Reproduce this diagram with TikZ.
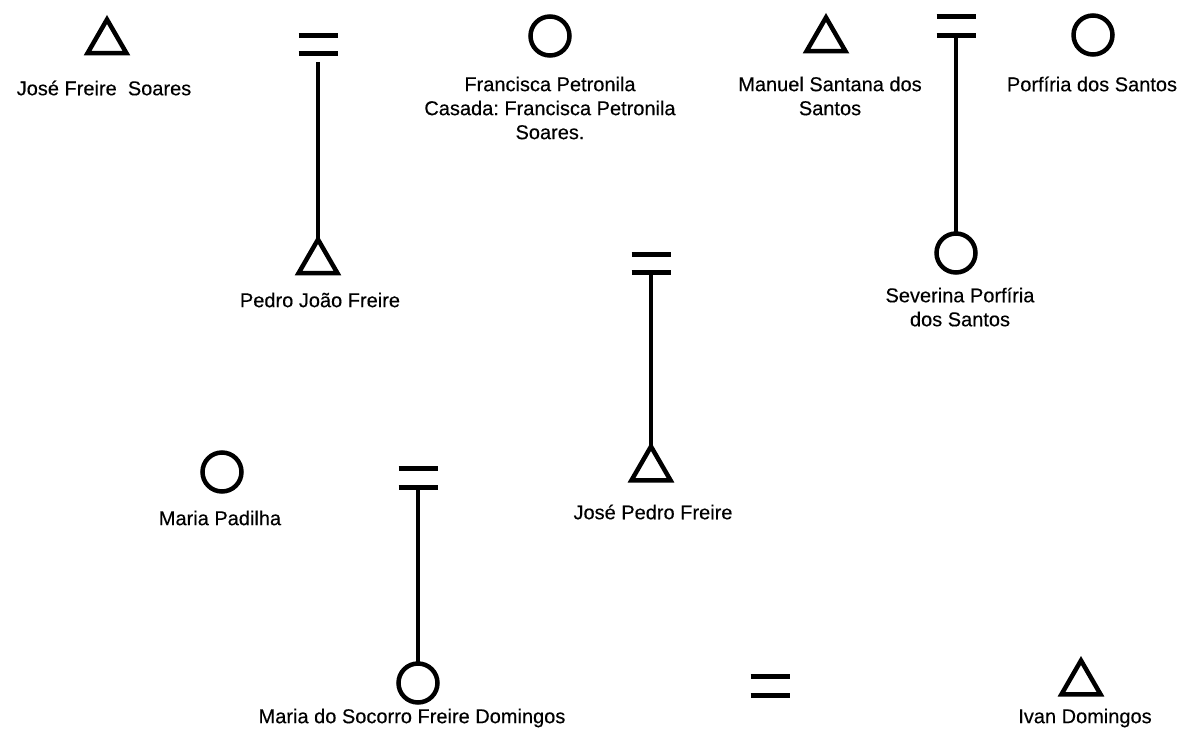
\documentclass[tikz,border=0pt]{standalone}
\usepackage{fontspec}
\setmainfont[FakeBold=0.3]{Liberation Sans}
\usetikzlibrary{shapes.geometric}
\frenchspacing
\begin{document}
\begin{tikzpicture}[x=1pt,y=-1pt,
  male/.style={regular polygon,regular polygon sides=3,draw,line width=4.5pt,minimum size=45pt,inner sep=0pt,outer sep=0pt},
  female/.style={circle,draw,line width=4.5pt,minimum size=39pt,inner sep=0pt,outer sep=0pt},
  marr/.style={rectangle,draw=none,minimum width=39pt,minimum height=18pt,inner sep=0pt,outer sep=0pt},
  bar/.style={line width=5pt},
  desc/.style={line width=4.5pt},
  lbl/.style={align=center,font=\fontsize{20}{24}\selectfont,inner sep=0pt}]
\useasboundingbox (0,0) rectangle (1186,735);

% symbols
\node[male]   (josefs)   at (107,42)  {};
\node[marr]   (e1)       at (318,45)  {};
\node[male]   (pedrojf)  at (318,262) {};
\node[female] (francisca) at (550,36) {};
\node[male]   (manuel)   at (826,40)  {};
\node[marr, minimum height=19pt] (e2) at (956,26.5) {};
\node[female] (severina) at (956,253) {};
\node[female] (porfiria) at (1093,35) {};
\node[marr]   (e3)       at (651,264) {};
\node[male]   (josepf)   at (651,469) {};
\node[female] (padilha)  at (222,472) {};
\node[marr, minimum height=19pt] (e4) at (418,478) {};
\node[female] (socorro)  at (418,683) {};
\node[marr, minimum height=19pt] (e5) at (770,686) {};
\node[male]   (ivan)     at (1081,683) {};

% marriage bars
\foreach \e in {e1,e2,e3,e4,e5}{
  \draw[bar] (\e.north west) -- (\e.north east);
  \draw[bar] (\e.south west) -- (\e.south east);
}

% descent lines
\draw[desc, shorten <=8pt] (e1.south) -- (pedrojf.corner 1);
\draw[desc] (e2.south) -- (severina.north);
\draw[desc] (e3.south) -- (josepf.corner 1);
\draw[desc] (e4.south) -- (socorro.north);

% labels
\node[lbl] (l1)  at (104,88)  {José Freire\ \ Soares};
\node[lbl] (l2)  at (320,300) {Pedro João Freire};
\node[lbl] (l3)  at (550,108) {Francisca Petronila\\Casada: Francisca Petronila\\Soares.};
\node[lbl] (l4)  at (830,96)  {Manuel Santana dos\\Santos};
\node[lbl] (l5)  at (960,307) {Severina Porfíria\\dos Santos};
\node[lbl] (l6)  at (1092,84) {Porfíria dos Santos};
\node[lbl] (l7)  at (653,512) {José Pedro Freire};
\node[lbl] (l8)  at (220,518) {Maria Padilha};
\node[lbl] (l9)  at (412,718) {Maria do Socorro Freire Domingos};
\node[lbl] (l10) at (1085,718) {Ivan Domingos};
\end{tikzpicture}
\end{document}
